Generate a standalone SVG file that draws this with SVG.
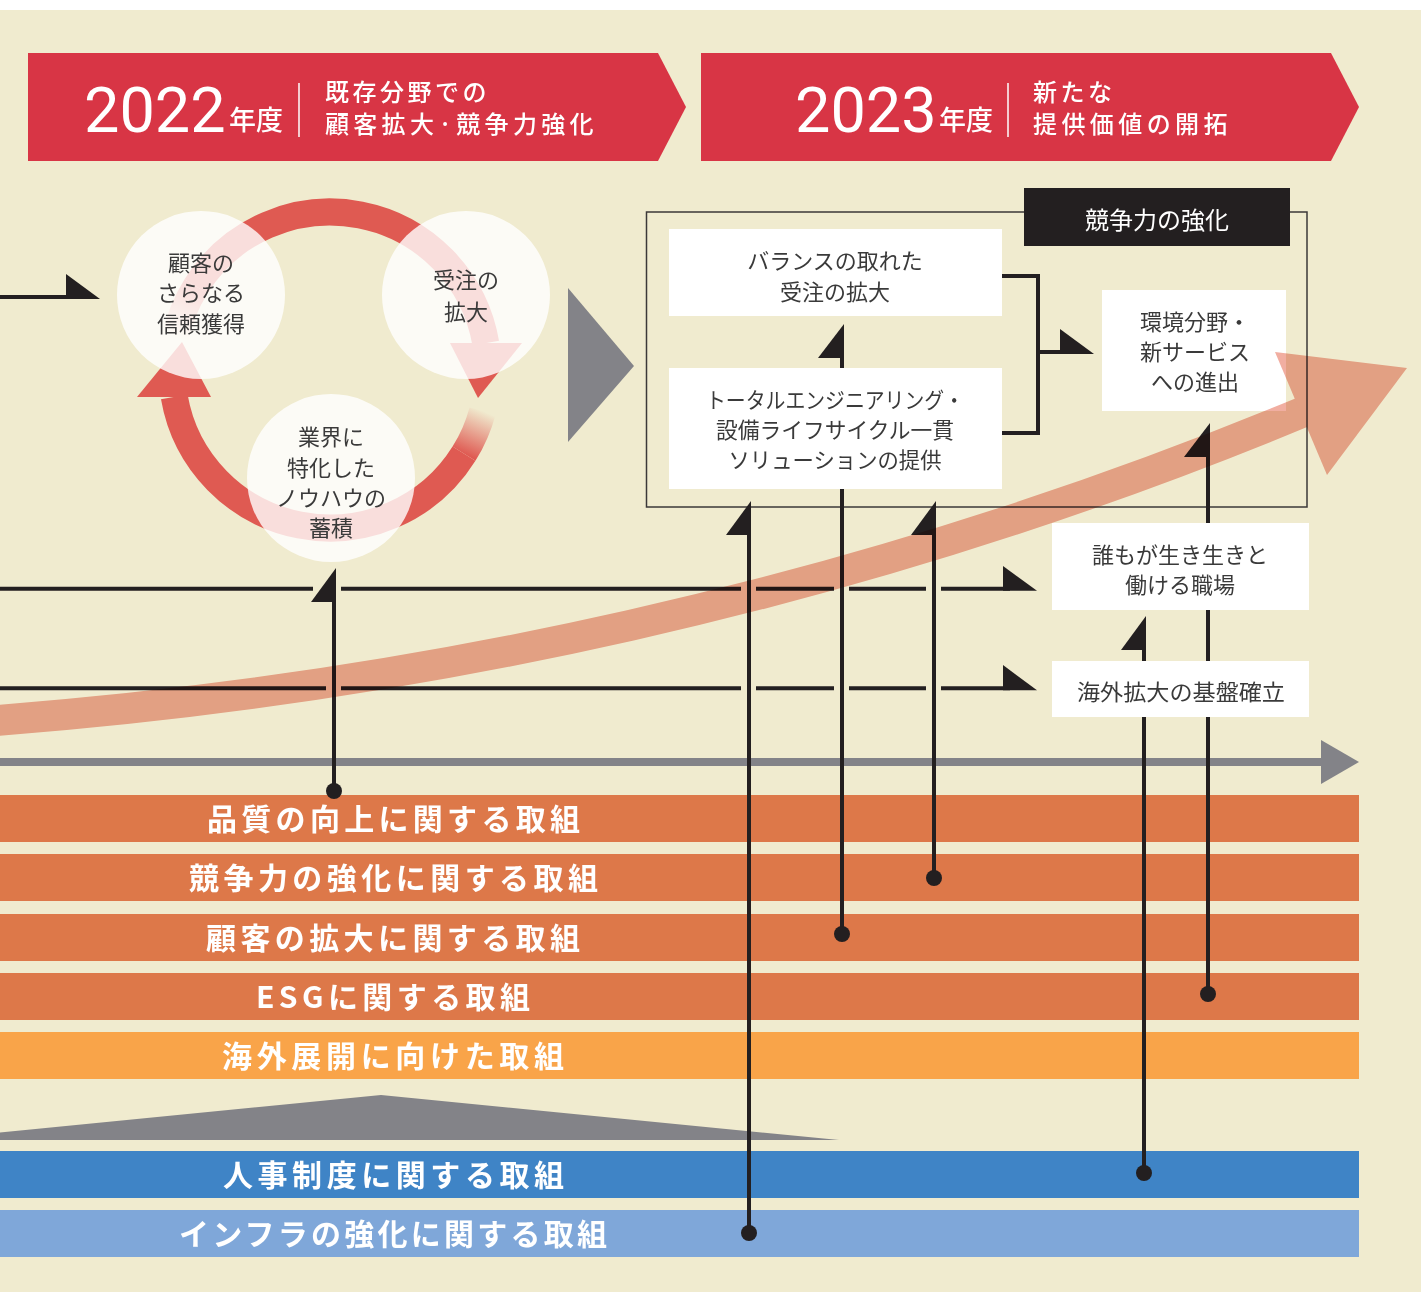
<svg xmlns="http://www.w3.org/2000/svg" width="1421" height="1292" viewBox="0 0 1421 1292">
<style>
.jp{font-family:"Noto Sans CJK JP","Noto Sans",sans-serif}
.yr{font-family:Roboto,"Liberation Sans",sans-serif;font-size:63px;fill:#fff}
.nd{font-size:27px;fill:#fff;font-weight:500}
.ht{font-size:24px;fill:#fff;font-weight:500;letter-spacing:3.5px}
.ct{font-size:22px;fill:#3a3a3a;text-anchor:middle}
.bt{font-size:22px;fill:#3a3a3a;text-anchor:middle}
.bar{font-size:30px;fill:#fff;font-weight:700}
.ln{stroke:#231F20;stroke-width:4;fill:none}
.ah{fill:#231F20}
.bub{fill:#fff;fill-opacity:.8}
.ring{fill:none;stroke-width:27}
.wb{fill:#fff}
</style>
<defs>
<linearGradient id="gTop" gradientUnits="userSpaceOnUse" x1="175.5" y1="337.2" x2="196" y2="286.3">
<stop offset="0" stop-color="#DF5A52" stop-opacity="0"/><stop offset="1" stop-color="#DF5A52" stop-opacity="1"/>
</linearGradient>
<linearGradient id="gBot" gradientUnits="userSpaceOnUse" x1="482.6" y1="410.9" x2="464" y2="453.7">
<stop offset="0" stop-color="#DF5A52" stop-opacity="0"/><stop offset="1" stop-color="#DF5A52" stop-opacity="1"/>
</linearGradient>
</defs>
<rect x="0" y="0" width="1421" height="1292" fill="#fff"/>
<rect x="0" y="10" width="1421" height="1282" fill="#F0EBCF"/>

<g id="header-2022">
<polygon points="28,53 658,53 686,107 658,161 28,161" fill="#D83545"/>
<text x="84" y="132" class="yr">2022</text>
<text x="229" y="130" class="jp nd">年度</text>
<line x1="299" y1="83" x2="299" y2="137" stroke="#fff" stroke-width="1.5"/>
<text x="325" y="101" class="jp ht">既存分野での</text>
<text x="325" y="133" class="jp ht" textLength="272">顧客拡大·競争力強化</text>
</g>
<g id="header-2023">
<polygon points="701,53 1331,53 1359,107 1331,161 701,161" fill="#D83545"/>
<text x="795" y="132" class="yr">2023</text>
<text x="939" y="130" class="jp nd">年度</text>
<line x1="1008" y1="83" x2="1008" y2="137" stroke="#fff" stroke-width="1.5"/>
<text x="1033" y="101" class="jp ht">新たな</text>
<text x="1033" y="133" class="jp ht" textLength="198">提供価値の開拓</text>
</g>

<g id="cycle">
<path d="M175.5 337.2 A158 158 0 0 1 196 286.3" class="ring" stroke="url(#gTop)"/>
<path d="M196 286.3 A158 158 0 0 1 485.7 343.1" class="ring" stroke="#DF5A52"/>
<polygon points="450,343 522,343 478,398" fill="#DF5A52"/>
<path d="M482.6 410.9 A158 158 0 0 1 464 453.7" class="ring" stroke="url(#gBot)"/>
<path d="M464 453.7 A158 158 0 0 1 174.3 396.9" class="ring" stroke="#DF5A52"/>
<polygon points="137,397 211,397 182,342" fill="#DF5A52"/>
</g>
<g id="node-trust">
<circle cx="201" cy="295" r="84" class="bub"/>
<text class="jp ct"><tspan x="201" y="271">顧客の</tspan><tspan x="201" y="301">さらなる</tspan><tspan x="201" y="332">信頼獲得</tspan></text>
</g>
<g id="node-orders">
<circle cx="466" cy="295" r="84" class="bub"/>
<text class="jp ct"><tspan x="466" y="288">受注の</tspan><tspan x="466" y="320">拡大</tspan></text>
</g>
<g id="node-knowhow">
<circle cx="331" cy="478" r="84" class="bub"/>
<text class="jp ct"><tspan x="331" y="445">業界に</tspan><tspan x="331" y="476">特化した</tspan><tspan x="331" y="506">ノウハウの</tspan><tspan x="331" y="536">蓄積</tspan></text>
</g>
<polygon id="play" points="568,288 634,366 568,442" fill="#838388"/>

<g id="bars">
<rect x="0" y="795" width="1359" height="47" fill="#DD7849"/>
<rect x="0" y="854" width="1359" height="47" fill="#DD7849"/>
<rect x="0" y="914" width="1359" height="47" fill="#DD7849"/>
<rect x="0" y="973" width="1359" height="47" fill="#DD7849"/>
<rect x="0" y="1032" width="1359" height="47" fill="#F9A449"/>
<polygon points="-77,1140 381,1095 839,1140" fill="#838388"/>
<rect x="0" y="1151" width="1359" height="47" fill="#3F84C6"/>
<rect x="0" y="1210" width="1359" height="47" fill="#7FA7D9"/>
<text x="207" y="829.5" class="jp bar" textLength="373">品質の向上に関する取組</text>
<text x="189" y="888.5" class="jp bar" textLength="409">競争力の強化に関する取組</text>
<text x="206" y="948.5" class="jp bar" textLength="374">顧客の拡大に関する取組</text>
<text x="256" y="1007.5" class="jp bar" textLength="274">ESGに関する取組</text>
<text x="222" y="1066.5" class="jp bar" textLength="342">海外展開に向けた取組</text>
<text x="223" y="1185.5" class="jp bar" textLength="341">人事制度に関する取組</text>
<text x="179" y="1244.5" class="jp bar" textLength="428">インフラの強化に関する取組</text>
</g>

<rect id="frame" x="646.5" y="212" width="660.5" height="295" fill="none" stroke="#3b3838" stroke-width="1.5"/>

<g id="connectors">
<line x1="0" y1="762" x2="1325" y2="762" stroke="#838388" stroke-width="8"/>
<polygon points="1321,740 1359,762 1321,784" fill="#838388"/>
<line x1="0" y1="297" x2="70" y2="297" class="ln"/>
<polygon points="66,274 100,299 66,299" class="ah"/>
<path class="ln" d="M0 588.7H313M341 588.7H741M756 588.7H834M849 588.7H926M941 588.7H1010"/>
<polygon points="1003,566 1037,590.7 1003,590.7" class="ah"/>
<path class="ln" d="M0 688.3H326M341 688.3H741M756 688.3H834M849 688.3H926M941 688.3H1010"/>
<polygon points="1003,665 1037,690.3 1003,690.3" class="ah"/>
<line x1="334" y1="790" x2="334" y2="580" class="ln"/>
<polygon points="336,568 336,602 311,602" class="ah"/>
<circle cx="334" cy="791" r="8" class="ah"/>
<line x1="749" y1="1233" x2="749" y2="515" class="ln"/>
<polygon points="751,501 751,535 726,535" class="ah"/>
<circle cx="749" cy="1233" r="8" class="ah"/>
<line x1="842" y1="934" x2="842" y2="489" class="ln"/>
<circle cx="842" cy="934" r="8" class="ah"/>
<line x1="934" y1="878" x2="934" y2="515" class="ln"/>
<polygon points="936,501 936,535 911,535" class="ah"/>
<circle cx="934" cy="878" r="8" class="ah"/>
<line x1="842" y1="368" x2="842" y2="340" class="ln"/>
<polygon points="844,324 844,358 818,358" class="ah"/>
<line x1="1208" y1="994" x2="1208" y2="440" class="ln"/>
<polygon points="1210,423 1210,457 1184,457" class="ah"/>
<circle cx="1208" cy="994" r="8" class="ah"/>
<line x1="1144" y1="1173" x2="1144" y2="630" class="ln"/>
<polygon points="1146,616 1146,650 1121,650" class="ah"/>
<circle cx="1144" cy="1173" r="8" class="ah"/>
<path class="ln" d="M1002 276H1038V433H1002M1038 352H1066"/>
<polygon points="1060,329 1094,354 1060,354" class="ah"/>
</g>

<g id="node-title">
<rect x="1024" y="188" width="266" height="58" fill="#231F20"/>
<text x="1157" y="228.5" class="jp" font-size="24" fill="#fff" text-anchor="middle">競争力の強化</text>
</g>
<g id="node-balance">
<rect x="669" y="229" width="333" height="87" class="wb"/>
<text class="jp bt"><tspan x="835" y="268.7">バランスの取れた</tspan><tspan x="835" y="299.7">受注の拡大</tspan></text>
</g>
<g id="node-total">
<rect x="669" y="368" width="333" height="121" class="wb"/>
<text x="835" y="407.7" class="jp bt" textLength="258" lengthAdjust="spacingAndGlyphs">トータルエンジニアリング・</text>
<text x="835" y="437.7" class="jp bt" textLength="238" lengthAdjust="spacingAndGlyphs">設備ライフサイクル一貫</text>
<text x="835" y="467.7" class="jp bt" textLength="213" lengthAdjust="spacingAndGlyphs">ソリューションの提供</text>
</g>
<g id="node-env">
<rect x="1102" y="290" width="184" height="121" class="wb"/>
<text class="jp bt"><tspan x="1195" y="329.7">環境分野・</tspan><tspan x="1195" y="359.7">新サービス</tspan><tspan x="1195" y="389.7">への進出</tspan></text>
</g>
<g id="node-work">
<rect x="1052" y="523" width="257" height="87" class="wb"/>
<text class="jp bt"><tspan x="1180" y="562.7">誰もが生き生きと</tspan><tspan x="1180" y="592.7">働ける職場</tspan></text>
</g>
<g id="node-overseas">
<rect x="1052" y="661" width="257" height="56" class="wb"/>
<text x="1181" y="699.7" class="jp bt" textLength="208" lengthAdjust="spacingAndGlyphs">海外拡大の基盤確立</text>
</g>

<g id="growth-arrow" style="mix-blend-mode:multiply">
<path d="M-10 721 C400 690 850 600 1303 412" fill="none" stroke="#F1AEA1" stroke-width="31"/>
<polygon points="1275,352 1407,368 1327,475" fill="#F1AEA1"/>
</g>
</svg>
